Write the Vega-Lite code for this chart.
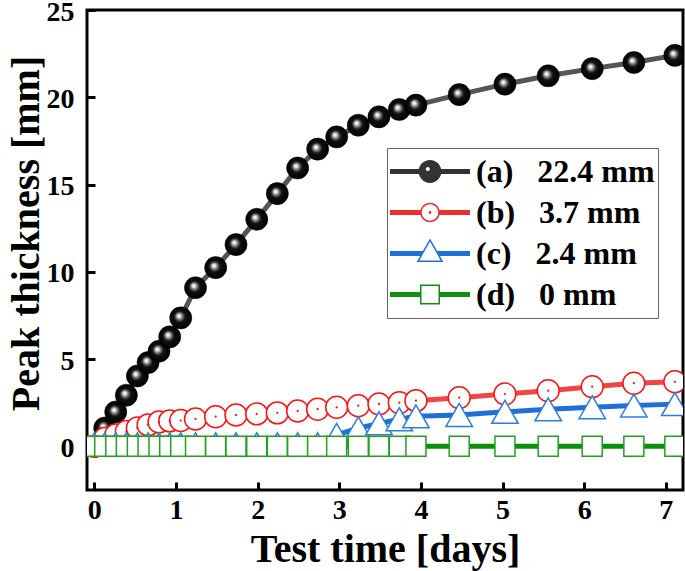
{
  "$schema": "https://vega.github.io/schema/vega-lite/v6.json",
  "width": 596,
  "height": 480,
  "autosize": {"type": "none"},
  "padding": {"left": 87, "top": 10, "right": 2, "bottom": 81},
  "background": "white",
  "config": {
    "view": {"stroke": "black", "strokeWidth": 3},
    "font": "Liberation Serif",
    "axis": {
      "domain": false, "grid": false,
      "tickColor": "black", "tickWidth": 3, "tickSize": -8,
      "labelFont": "Liberation Serif", "labelFontWeight": "bold", "labelFontSize": 28, "labelColor": "black",
      "labelFlush": false, "labelOverlap": false,
      "titleFont": "Liberation Serif", "titleFontWeight": "bold", "titleFontSize": 40, "titleColor": "black"
    }
  },
  "data": {"values": [
    {"s":"a","t":0.127,"v":1.05},{"s":"a","t":0.262,"v":1.97},{"s":"a","t":0.392,"v":2.93},{"s":"a","t":0.527,"v":4.03},
    {"s":"a","t":0.658,"v":4.80},{"s":"a","t":0.792,"v":5.45},{"s":"a","t":0.923,"v":6.27},{"s":"a","t":1.058,"v":7.36},
    {"s":"a","t":1.239,"v":9.09},{"s":"a","t":1.486,"v":10.24},{"s":"a","t":1.735,"v":11.56},{"s":"a","t":1.989,"v":13.01},
    {"s":"a","t":2.241,"v":14.48},{"s":"a","t":2.490,"v":15.95},{"s":"a","t":2.735,"v":17.03},{"s":"a","t":2.968,"v":17.73},
    {"s":"a","t":3.233,"v":18.40},{"s":"a","t":3.486,"v":18.88},{"s":"a","t":3.735,"v":19.30},{"s":"a","t":3.939,"v":19.55},
    {"s":"a","t":4.469,"v":20.15},{"s":"a","t":5.029,"v":20.75},{"s":"a","t":5.559,"v":21.23},{"s":"a","t":6.098,"v":21.64},
    {"s":"a","t":6.608,"v":21.99},{"s":"a","t":7.110,"v":22.4},

    {"s":"b","t":0,"v":0},{"s":"b","t":0.127,"v":0.45},{"s":"b","t":0.262,"v":0.65},{"s":"b","t":0.392,"v":0.85},
    {"s":"b","t":0.527,"v":1.05},{"s":"b","t":0.658,"v":1.23},{"s":"b","t":0.792,"v":1.40},{"s":"b","t":0.923,"v":1.46},
    {"s":"b","t":1.058,"v":1.48},{"s":"b","t":1.239,"v":1.57},{"s":"b","t":1.486,"v":1.70},{"s":"b","t":1.735,"v":1.80},
    {"s":"b","t":1.989,"v":1.86},{"s":"b","t":2.241,"v":1.92},{"s":"b","t":2.490,"v":2.03},{"s":"b","t":2.735,"v":2.13},
    {"s":"b","t":2.968,"v":2.24},{"s":"b","t":3.233,"v":2.33},{"s":"b","t":3.486,"v":2.43},{"s":"b","t":3.735,"v":2.50},
    {"s":"b","t":3.939,"v":2.62},{"s":"b","t":4.469,"v":2.79},{"s":"b","t":5.029,"v":3.0},{"s":"b","t":5.559,"v":3.19},
    {"s":"b","t":6.098,"v":3.42},{"s":"b","t":6.608,"v":3.62},{"s":"b","t":7.110,"v":3.7},

    {"s":"c","t":0,"v":0.12},{"s":"c","t":0.127,"v":0.12},{"s":"c","t":0.262,"v":0.12},{"s":"c","t":0.392,"v":0.12},
    {"s":"c","t":0.527,"v":0.12},{"s":"c","t":0.658,"v":0.12},{"s":"c","t":0.792,"v":0.12},{"s":"c","t":0.923,"v":0.12},
    {"s":"c","t":1.058,"v":0.12},{"s":"c","t":1.239,"v":0.12},{"s":"c","t":1.486,"v":0.12},{"s":"c","t":1.735,"v":0.12},
    {"s":"c","t":1.989,"v":0.12},{"s":"c","t":2.241,"v":0.12},{"s":"c","t":2.490,"v":0.12},{"s":"c","t":2.735,"v":0.12},
    {"s":"c","t":2.968,"v":0.66},{"s":"c","t":3.233,"v":1.04},{"s":"c","t":3.486,"v":1.32},{"s":"c","t":3.735,"v":1.55},
    {"s":"c","t":3.939,"v":1.72},{"s":"c","t":4.469,"v":1.80},{"s":"c","t":5.029,"v":1.98},{"s":"c","t":5.559,"v":2.12},
    {"s":"c","t":6.098,"v":2.24},{"s":"c","t":6.608,"v":2.34},{"s":"c","t":7.110,"v":2.42},

    {"s":"d","t":0,"v":0},{"s":"d","t":0.127,"v":0},{"s":"d","t":0.262,"v":0},{"s":"d","t":0.392,"v":0},
    {"s":"d","t":0.527,"v":0},{"s":"d","t":0.658,"v":0},{"s":"d","t":0.792,"v":0},{"s":"d","t":0.923,"v":0},
    {"s":"d","t":1.058,"v":0},{"s":"d","t":1.239,"v":0},{"s":"d","t":1.486,"v":0},{"s":"d","t":1.735,"v":0},
    {"s":"d","t":1.989,"v":0},{"s":"d","t":2.241,"v":0},{"s":"d","t":2.490,"v":0},{"s":"d","t":2.735,"v":0},
    {"s":"d","t":2.968,"v":0},{"s":"d","t":3.233,"v":0},{"s":"d","t":3.486,"v":0},{"s":"d","t":3.735,"v":0},
    {"s":"d","t":3.939,"v":0},{"s":"d","t":4.469,"v":0},{"s":"d","t":5.029,"v":0},{"s":"d","t":5.559,"v":0},
    {"s":"d","t":6.098,"v":0},{"s":"d","t":6.608,"v":0},{"s":"d","t":7.110,"v":0}
  ]},
  "encoding": {
    "x": {"field": "t", "type": "quantitative",
      "scale": {"domain": [-0.09, 7.21], "nice": false, "zero": false},
      "axis": {"values": [0,1,2,3,4,5,6,7], "title": "Test time [days]", "labelPadding": 14,
               "titleY": 71, "titleBaseline": "alphabetic"}},
    "y": {"field": "v", "type": "quantitative",
      "scale": {"domain": [-2.5, 25], "nice": false, "zero": false},
      "axis": {"values": [0,5,10,15,20,25], "title": "Peak thickness [mm]", "labelPadding": 21, "labelOffset": 2,
               "titleX": -49, "titleY": 223, "titleAngle": 270, "titleBaseline": "alphabetic", "titleAlign": "center"}}
  },
  "layer": [
    {"transform": [{"filter": "datum.s == 'a'"}],
     "mark": {"type": "line", "color": "#555555", "strokeWidth": 5, "clip": true}},
    {"transform": [{"filter": "datum.s == 'a'"}],
     "mark": {"type": "point", "shape": "circle", "size": 490, "filled": true, "opacity": 1, "clip": true,
              "stroke": "#000000", "strokeWidth": 0.5,
              "fill": {"gradient": "radial", "x1": 0.41, "y1": 0.4, "r1": 0, "x2": 0.5, "y2": 0.5, "r2": 0.5,
                       "stops": [{"offset": 0, "color": "#ffffff"}, {"offset": 0.12, "color": "#eeeeee"},
                                 {"offset": 0.3, "color": "#777777"}, {"offset": 0.5, "color": "#111111"},
                                 {"offset": 1, "color": "#000000"}]}}},
    {"transform": [{"filter": "datum.s == 'b'"}],
     "mark": {"type": "line", "color": "#f04545", "strokeWidth": 5, "clip": true}},
    {"transform": [{"filter": "datum.s == 'b'"}],
     "mark": {"type": "point", "shape": "circle", "size": 480, "filled": true, "opacity": 1, "clip": true,
              "fill": "white", "stroke": "#ff1111", "strokeWidth": 1.5}},
    {"transform": [{"filter": "datum.s == 'b'"}],
     "mark": {"type": "point", "shape": "circle", "size": 5, "filled": true, "opacity": 1, "clip": true,
              "color": "#ff1111"}},
    {"transform": [{"filter": "datum.s == 'c'"}],
     "mark": {"type": "line", "color": "#1f6fd8", "strokeWidth": 5, "clip": true}},
    {"transform": [{"filter": "datum.s == 'c'"}],
     "mark": {"type": "point", "shape": "triangle-up", "size": 700, "filled": true, "opacity": 1, "clip": true,
              "fill": "white", "stroke": "#2a7de1", "strokeWidth": 1.5}},
    {"transform": [{"filter": "datum.s == 'd'"}],
     "mark": {"type": "line", "color": "#0c8f0c", "strokeWidth": 5, "clip": true}},
    {"transform": [{"filter": "datum.s == 'd'"}],
     "mark": {"type": "point", "shape": "square", "size": 400, "filled": true, "opacity": 1, "clip": true,
              "fill": "white", "stroke": "#22a022", "strokeWidth": 1.5}},
    {"transform": [{"filter": "datum.t < -50"}],
     "mark": {"type": "point", "filled": true, "opacity": 1},
     "encoding": {
       "color": {"field": "s", "type": "nominal",
         "scale": {"domain": ["a","b","c","d"], "range": ["#333333", "#ee2d2d", "#1f6fd8", "#0e900e"]},
         "legend": {"title": null, "orient": "none", "legendX": 300, "legendY": 138,
           "symbolSize": 6400, "symbolStrokeWidth": 0, "symbolOpacity": 1,
           "clipHeight": 41, "rowPadding": 0, "padding": 3,
           "strokeColor": "#666666", "fillColor": "white",
           "labelFont": "Liberation Serif", "labelFontWeight": "bold", "labelFontSize": 32, "labelColor": "black",
           "labelOffset": 6, "labelLimit": 400,
           "labelExpr": "datum.label == 'a' ? '(a)\u00a0\u00a0\u00a022.4 mm' : datum.label == 'b' ? '(b)\u00a0\u00a0\u00a03.7 mm' : datum.label == 'c' ? '(c)\u00a0\u00a0\u00a02.4 mm' : '(d)\u00a0\u00a0\u00a00 mm'"}},
       "shape": {"field": "s", "type": "nominal",
         "scale": {"domain": ["a","b","c","d"], "range": [
           "M-1,-0.0625H-0.27V0.0625H-1Z M0.27,-0.0625H1V0.0625H0.27Z M0.285,0A0.285,0.285 0 1,1 -0.285,0A0.285,0.285 0 1,1 0.285,0Z M-0.005,-0.06A0.05,0.05 0 1,0 -0.105,-0.06A0.05,0.05 0 1,0 -0.005,-0.06Z",
           "M-1,-0.0625H-0.23V0.0625H-1Z M0.23,-0.0625H1V0.0625H0.23Z M0.245,0A0.245,0.245 0 1,1 -0.245,0A0.245,0.245 0 1,1 0.245,0Z M0.205,0A0.205,0.205 0 1,0 -0.205,0A0.205,0.205 0 1,0 0.205,0Z M0.035,0A0.035,0.035 0 1,1 -0.035,0A0.035,0.035 0 1,1 0.035,0Z",
           "M-1,-0.0625H-0.156L-0.227,0.0625H-1Z M0.156,-0.0625H1V0.0625H0.227Z M0,-0.375L0.333,0.21L-0.333,0.21Z M0,-0.299L-0.268,0.1725L0.268,0.1725Z",
           "M-1,-0.0625H-0.23V0.0625H-1Z M0.23,-0.0625H1V0.0625H0.23Z M-0.25,-0.25H0.25V0.25H-0.25Z M-0.2125,-0.2125V0.2125H0.2125V-0.2125Z"
         ]}}
     }}
  ]
}
